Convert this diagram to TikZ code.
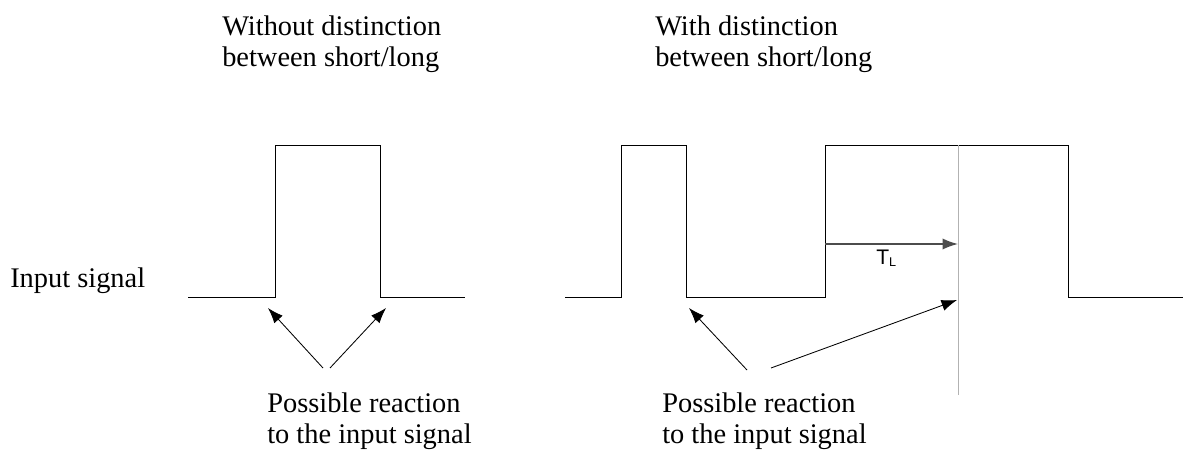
\documentclass[tikz,border=0pt]{standalone}
\usepackage{fontspec}
\setmainfont{Liberation Serif}
\newfontfamily\labelfont{Liberation Sans}
\usetikzlibrary{positioning,arrows.meta}

\begin{document}
\begin{tikzpicture}[x=0.025cm, y=-0.025cm, >={Latex[length=11pt,width=8pt]}]
  \tikzstyle{txt}=[inner sep=0pt, align=left, font=\fontsize{20.2}{22}\selectfont]
  \tikzstyle{sig}=[line width=0.7pt, black]
  \tikzstyle{reac}=[->, line width=0.6pt]
  \useasboundingbox (0,0) rectangle (1198,452);

  \node[txt, anchor=north west] (tl) at (222,16) {Without distinction\\between short/long};
  \node[txt, anchor=north west] (tr) at (655,16) {With distinction\\between short/long};
  \node[txt, anchor=base west] (in) at (10,288) {Input signal};
  \node[txt, anchor=north west] (pl) at (267,393) {Possible reaction\\to the input signal};
  \node[txt, anchor=north west] (pr) at (662,393) {Possible reaction\\to the input signal};

  % signals
  \draw[sig] (188,297) -- (275,297) -- (275,145) -- (380,145) -- (380,297) -- (465,297);
  \draw[sig] (565,297) -- (621,297) -- (621,145) -- (686,145) -- (686,297)
    -- (825,297) -- (825,145) -- (1068,145) -- (1068,297) -- (1183,297);
  \draw[line width=0.7pt, gray!60] (958,145) -- (958,395);

  \coordinate (tlstart) at (825,244);
  \coordinate (tlend) at (958,244);
  \draw[->, line width=1.1pt, black!70] (tlstart) -- (tlend);
  \node[inner sep=0pt, anchor=base west, font=\labelfont\fontsize{15}{18}\selectfont] (tlab) at (876,265) {T\raisebox{-0.15ex}{\fontsize{9}{10}\selectfont L}};

  % reaction arrows
  \coordinate (a1) at (323,368);
  \coordinate (a2) at (330,368);
  \coordinate (e1) at (268,308);
  \coordinate (e2) at (386,308);
  \draw[reac] (a1) -- (e1);
  \draw[reac] (a2) -- (e2);
  \coordinate (b1) at (747,370);
  \coordinate (b2) at (771,368);
  \coordinate (f1) at (689,308);
  \coordinate (f2) at (957,300);
  \draw[reac] (b1) -- (f1);
  \draw[reac] (b2) -- (f2);
\end{tikzpicture}
\end{document}
